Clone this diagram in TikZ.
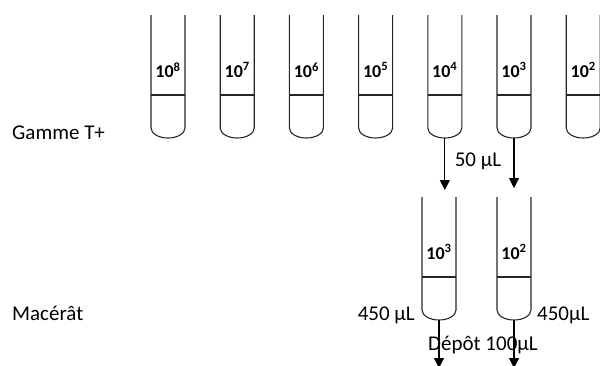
\documentclass[tikz,border=0pt]{standalone}
\usepackage{fontspec}
\setmainfont{Carlito}
\usetikzlibrary{arrows.meta}
\tikzset{
  tubeline/.style={line width=1.1pt, draw=black!85},
  tubelabel/.style={font=\fontsize{18}{20}\selectfont\bfseries, inner sep=0pt},
  txt/.style={font=\fontsize{21}{24}\selectfont, inner sep=0pt},
  flow/.style={line width=1.1pt, -{Triangle[width=10pt,length=10pt]}},
  pics/tube/.style={code={
    \draw[tubeline] (-17,0) -- (-17,113) arc[start angle=180,end angle=0,x radius=17,y radius=10] -- (17,0);
    \draw[tubeline] (-17,80) -- (17,80);
    \node[tubelabel] (-lbl) at (0,55) {#1};
    \coordinate (-bot) at (0,123);
  }}
}
\begin{document}
\begin{tikzpicture}[x=1pt,y=-1pt]
\useasboundingbox (0,0) rectangle (600,365);
% top row
\pic (t8) at (168,15) {tube={10\textsuperscript{8}}};
\pic (t7) at (237.2,15) {tube={10\textsuperscript{7}}};
\pic (t6) at (306.4,15) {tube={10\textsuperscript{6}}};
\pic (t5) at (375.6,15) {tube={10\textsuperscript{5}}};
\pic (t4) at (444.8,15) {tube={10\textsuperscript{4}}};
\pic (t3) at (514,15) {tube={10\textsuperscript{3}}};
\pic (t2) at (583.2,15) {tube={10\textsuperscript{2}}};
% bottom row
\pic (m3) at (439,197) {tube={10\textsuperscript{3}}};
\pic (m2) at (514,197) {tube={10\textsuperscript{2}}};
% arrows
\coordinate (a1) at (444.8,190);
\coordinate (a2) at (514,188);
\draw[flow] (t4-bot) -- (a1);
\draw[flow] (t3-bot) -- (a2);
\coordinate (b1) at (439,368);
\coordinate (b2) at (514,368);
\draw[flow] (m3-bot) -- (b1);
\draw[flow] (m2-bot) -- (b2);
% texts
\node[txt, anchor=west] (gamme) at (12,133) {Gamme T+};
\node[txt, anchor=west] (macerat) at (12,313) {Macérât};
\node[txt] (v50) at (478,161) {50 µL};
\node[txt, anchor=east] (v450a) at (415,315) {450 µL};
\node[txt, anchor=west] (v450b) at (537,315) {450µL};
\node[txt] (depot) at (483,345) {Dépôt 100µL};
\end{tikzpicture}
\end{document}
